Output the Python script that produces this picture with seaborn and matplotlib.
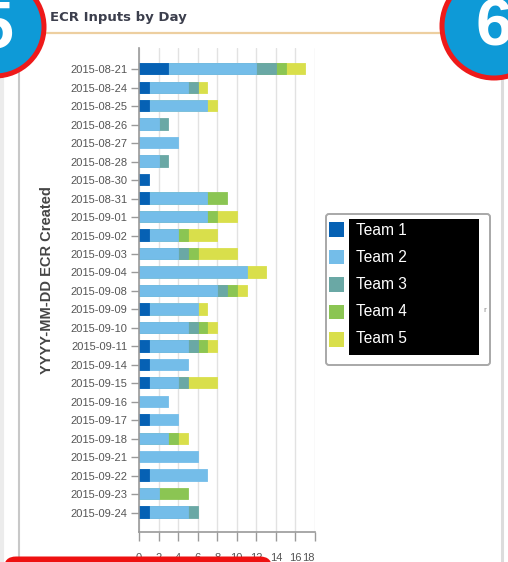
import matplotlib
matplotlib.use("Agg")
import matplotlib.pyplot as plt
import numpy as np
import pandas as pd
import seaborn as sns
from matplotlib.patches import Circle, Rectangle, FancyBboxPatch

# ---- data -------------------------------------------------------------
dates = [
    "2015-08-21", "2015-08-24", "2015-08-25", "2015-08-26", "2015-08-27",
    "2015-08-28", "2015-08-30", "2015-08-31", "2015-09-01", "2015-09-02",
    "2015-09-03", "2015-09-04", "2015-09-08", "2015-09-09", "2015-09-10",
    "2015-09-11", "2015-09-14", "2015-09-15", "2015-09-16", "2015-09-17",
    "2015-09-18", "2015-09-21", "2015-09-22", "2015-09-23", "2015-09-24",
]
teams = ["Team 1", "Team 2", "Team 3", "Team 4", "Team 5"]
team1 = [3, 1, 1, 0, 0, 0, 1, 1, 0, 1, 0, 0, 0, 1, 0, 1, 1, 1, 0, 1, 0, 0, 1, 0, 1]
team2 = [9, 4, 6, 2, 4, 2, 0, 6, 7, 3, 4, 11, 8, 5, 5, 4, 4, 3, 3, 3, 3, 6, 6, 2, 4]
team3 = [2, 1, 0, 1, 0, 1, 0, 0, 0, 0, 1, 0, 1, 0, 1, 1, 0, 1, 0, 0, 0, 0, 0, 0, 1]
team4 = [1, 0, 0, 0, 0, 0, 0, 2, 1, 1, 1, 0, 1, 0, 1, 1, 0, 0, 0, 0, 1, 0, 0, 3, 0]
team5 = [2, 1, 1, 0, 0, 0, 0, 0, 2, 3, 4, 2, 1, 1, 1, 1, 0, 3, 0, 0, 1, 0, 0, 0, 0]
team_colors = ["#0661b4", "#74bde9", "#6aa8a5", "#8bc553", "#d9df4b"]
x_ticks = [0, 2, 4, 6, 8, 10, 12, 14, 16, 18]

W, H = 508, 562

sns.set_theme(style="white")
plt.rcParams["font.family"] = ["Liberation Sans", "DejaVu Sans"]

fig = plt.figure(figsize=(W / 100, H / 100), dpi=100, facecolor="white")
ax = fig.add_axes([139 / W, (H - 532) / H, 176 / W, 484 / H])

df = pd.DataFrame({"date": dates, "Team 1": team1, "Team 2": team2,
                   "Team 3": team3, "Team 4": team4, "Team 5": team5})
cum = df[teams].cumsum(axis=1)

# stacked bars: draw running totals from the largest down
for team, color in reversed(list(zip(teams, team_colors))):
    sns.barplot(x=cum[team], y=df["date"], order=dates,
                orient="y", color=color, saturation=1, width=0.56,
                errorbar=None, linewidth=1.3, edgecolor=color, ax=ax)
    # a team with nothing on a day gets no segment
    for patch, v in zip(ax.patches[-len(dates):], df[team]):
        if v == 0:
            patch.set_visible(False)

ax.set_xlim(0, 18)
ax.set_ylim(len(dates) - 1 + 1.05, -1.15)
ax.set_xticks(x_ticks)
ax.set_xticklabels([str(t) for t in x_ticks])
ax.xaxis.get_major_ticks()[-1].label1.set_horizontalalignment("right")
ax.xaxis.grid(True, color="#e2e2e2", lw=1)
ax.set_axisbelow(True)
sns.despine(ax=ax)
for side in ("left", "bottom"):
    ax.spines[side].set_color("#9a9a9a")
    ax.spines[side].set_linewidth(1.2)
ax.tick_params(axis="x", bottom=True, length=6.5, width=1, color="#9a9a9a",
               labelsize=8, labelcolor="#555555", pad=8.5)
ax.tick_params(axis="y", left=True, length=5.5, width=1, color="#9a9a9a",
               labelsize=8, labelcolor="#555555", pad=3)
ax.set_xlabel("")
ax.set_ylabel("YYYY-MM-DD ECR Created", fontsize=10.5, fontweight="bold",
              color="#454545")
ax.yaxis.label.set_verticalalignment("center")
ax.yaxis.set_label_coords((47 - 139) / 176, (532 - 280) / 484)

# ---- overlay in pixel coordinates -------------------------------------
deco = fig.add_axes([0, 0, 1, 1], zorder=10)
deco.set_xlim(0, W)
deco.set_ylim(H, 0)
deco.axis("off")

# panel borders
deco.plot([2, 2], [0, H], color="#ececec", lw=3, zorder=1)
deco.plot([19, 19], [0, H], color="#c8c8c8", lw=1.5, zorder=1)
deco.plot([501.5, 501.5], [0, H], color="#dcdcdc", lw=2.2, zorder=1)

# panel title
deco.text(50, 17.5, "ECR Inputs by Day", fontsize=9.5, fontweight="bold",
          color="#3c3f4d", va="center", ha="left", family="DejaVu Sans")
deco.plot([44, 445], [32.5, 32.5], color="#edcfa0", lw=1.6,
          solid_capstyle="butt", zorder=2)

# legend
deco.add_patch(FancyBboxPatch((326, 214), 164, 151,
                              boxstyle="round,pad=0,rounding_size=3",
                              facecolor="white", edgecolor="#a8a8a8",
                              lw=1.4, zorder=3))
deco.add_patch(Rectangle((349, 219), 130, 136, facecolor="black",
                         edgecolor="none", zorder=4))
for i, (team, color) in enumerate(zip(teams, team_colors)):
    y0 = 222 + 27.5 * i
    deco.add_patch(Rectangle((329, y0), 14.5, 14.5, facecolor=color,
                             edgecolor="none", zorder=4))
    deco.text(356, 235 + 27 * i, team, color="white", fontsize=11.2,
              va="baseline", ha="left", zorder=5)
deco.text(485, 311, "r", fontsize=6, color="#8a8a8a", ha="center",
          va="center", zorder=5)

# numbered callouts
for (cx, cy, r, num) in [(-5, 27, 49, "5"), (494, 26, 52, "6")]:
    deco.add_patch(Circle((cx, cy), r, facecolor="#0e9ad7",
                          edgecolor="#ee1a1a", lw=3.6, zorder=6))
    deco.text(cx, cy + 3, num, color="white", fontsize=48,
              fontweight="bold", ha="center", va="center", zorder=7)

# red frame at the bottom
deco.add_patch(FancyBboxPatch((4, 556.5), 268, 40,
                              boxstyle="round,pad=0,rounding_size=12",
                              facecolor="#ee1111", edgecolor="none",
                              zorder=6))

fig.savefig("out.png", dpi=100, facecolor="white")
